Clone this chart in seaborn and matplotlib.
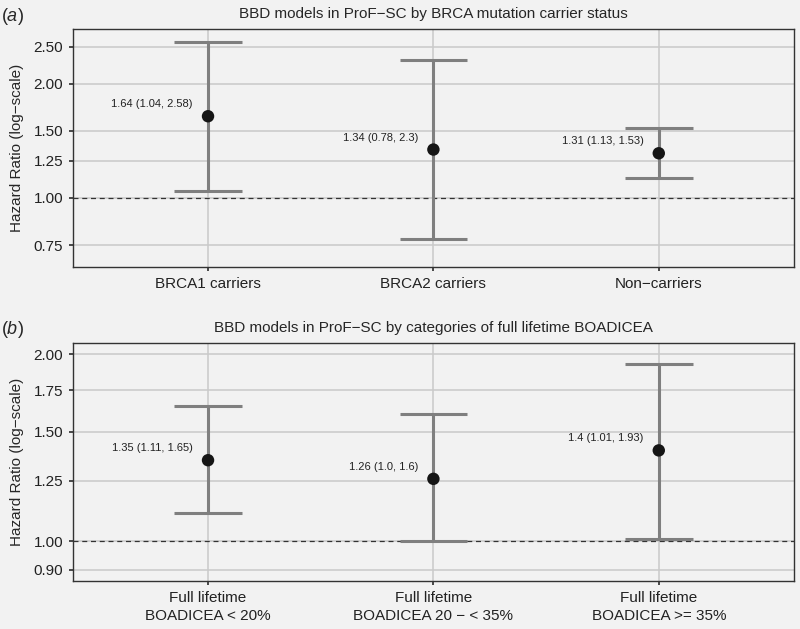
import numpy as np
import pandas as pd
import seaborn as sns
import matplotlib.pyplot as plt
from matplotlib.ticker import FixedLocator, NullLocator, FixedFormatter

# panel (a) data
cats_a = ["BRCA1 carriers", "BRCA2 carriers", "Non\u2212carriers"]
hr_a = [1.64, 1.34, 1.31]
lo_a = [1.04, 0.78, 1.13]
hi_a = [2.58, 2.3, 1.53]
lab_a = ["1.64 (1.04, 2.58)", "1.34 (0.78, 2.3)", "1.31 (1.13, 1.53)"]
yticks_a = [0.75, 1.00, 1.25, 1.50, 2.00, 2.50]

# panel (b) data
cats_b = ["Full lifetime\nBOADICEA < 20%", "Full lifetime\nBOADICEA 20 \u2212 < 35%",
          "Full lifetime\nBOADICEA >= 35%"]
hr_b = [1.35, 1.26, 1.4]
lo_b = [1.11, 1.0, 1.01]
hi_b = [1.65, 1.6, 1.93]
lab_b = ["1.35 (1.11, 1.65)", "1.26 (1.0, 1.6)", "1.4 (1.01, 1.93)"]
yticks_b = [0.90, 1.00, 1.25, 1.50, 1.75, 2.00]

bg = "#f2f2f2"
sns.set_theme(style="whitegrid")
plt.rcParams['font.family'] = ['Liberation Sans', 'DejaVu Sans']
plt.rcParams.update({
    "figure.facecolor": bg, "axes.facecolor": bg,
    "axes.edgecolor": "#333333", "axes.linewidth": 1.0,
    "grid.color": "#c9c9c9", "grid.linewidth": 1.1,
    "xtick.bottom": True, "ytick.left": True,
    "xtick.major.size": 3, "ytick.major.size": 3,
    "xtick.color": "#333333", "ytick.color": "#333333",
    "xtick.labelcolor": "#222222", "ytick.labelcolor": "#222222",
    "mathtext.fontset": "custom",
    "mathtext.rm": "Liberation Sans",
    "mathtext.it": "Liberation Sans:italic",
})

fig = plt.figure(figsize=(8, 6.29), dpi=100)
ax_a = fig.add_axes([0.091, 0.5755, 0.9015, 0.378])
ax_b = fig.add_axes([0.091, 0.0763, 0.9015, 0.3784])


def panel(ax, cats, hr, lo, hi, labels, yticks, ylim, title, tag):
    df = pd.DataFrame({"cat": cats, "hr": hr, "lo": lo, "hi": hi, "lab": labels})
    ax.set_yscale("log")
    pos = np.arange(len(df))
    # error bars with caps
    ax.vlines(pos, df["lo"], df["hi"], color="#7f7f7f", lw=2.2, zorder=3)
    ax.hlines(df["lo"], pos - 0.15, pos + 0.15, color="#7f7f7f", lw=2.2, zorder=3)
    ax.hlines(df["hi"], pos - 0.15, pos + 0.15, color="#7f7f7f", lw=2.2, zorder=3)
    sns.scatterplot(data=df, x=pos, y="hr", ax=ax, color="#151515", s=80,
                    edgecolor="none", zorder=4, legend=False)
    for p, v, t in zip(pos, df["hr"], df["lab"]):
        ax.annotate(t, (p, v), xytext=(-11, 5), textcoords="offset points",
                    ha="right", va="bottom", fontsize=8, color="#222222")
    ax.axhline(1.0, color="#333333", lw=0.9, ls=(0, (4, 3)), zorder=2)
    ax.set_xlim(-0.6, 2.6)
    ax.set_ylim(*ylim)
    ax.yaxis.set_major_locator(FixedLocator(yticks))
    ax.yaxis.set_major_formatter(FixedFormatter([f"{v:.2f}" for v in yticks]))
    ax.yaxis.set_minor_locator(NullLocator())
    ax.set_xticks(pos)
    ax.set_xticklabels(df["cat"], fontsize=11, linespacing=1.4)
    ax.tick_params(axis="y", labelsize=11, pad=4)
    ax.tick_params(axis="x", pad=4)
    ax.set_xlabel("")
    ax.set_ylabel("Hazard Ratio (log\u2212scale)", fontsize=11, labelpad=7)
    ax.set_title(title, fontsize=11, pad=8)
    ax.grid(True, axis="both")
    for s in ax.spines.values():
        s.set_visible(True)
    ax.text(-0.1, 1.055, r"($\it{" + tag + r"}$)", transform=ax.transAxes,
            fontsize=13, va="center", ha="left")


panel(ax_a, cats_a, hr_a, lo_a, hi_a, lab_a, yticks_a, (0.657, 2.78),
      "BBD models in ProF\u2212SC by BRCA mutation carrier status", "a")
panel(ax_b, cats_b, hr_b, lo_b, hi_b, lab_b, yticks_b, (0.863, 2.084),
      "BBD models in ProF\u2212SC by categories of full lifetime BOADICEA", "b")

fig.savefig("out.png", dpi=100, facecolor=bg)
